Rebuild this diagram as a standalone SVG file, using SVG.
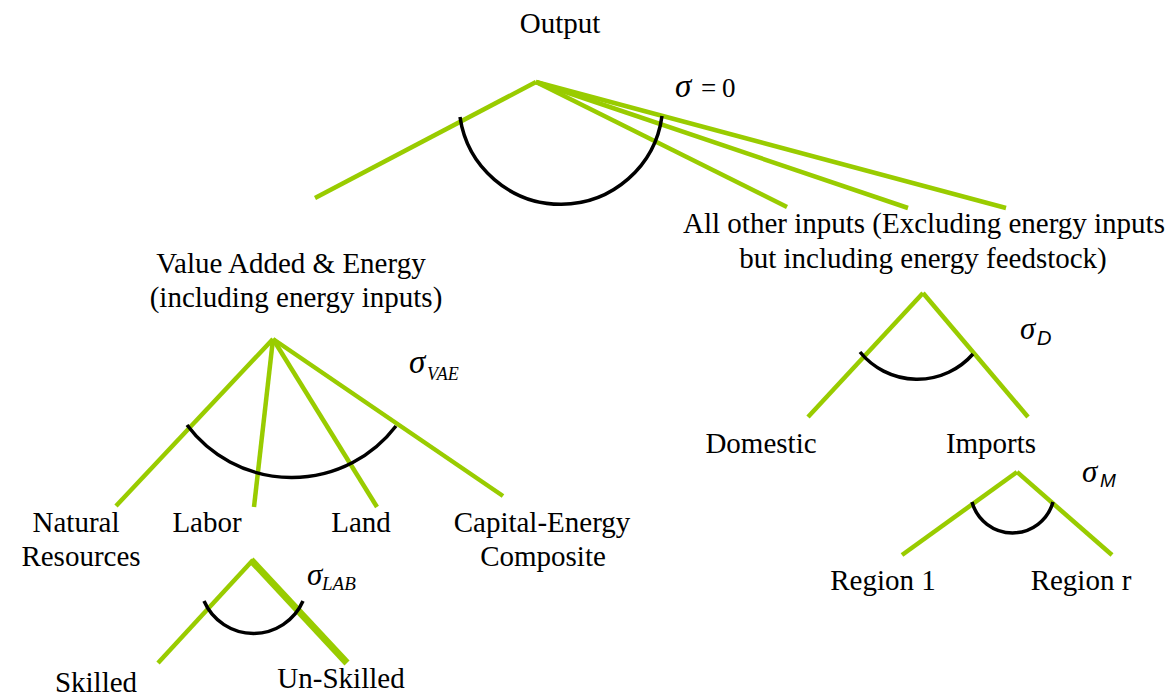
<svg xmlns="http://www.w3.org/2000/svg" width="1173" height="696" viewBox="0 0 1173 696">
<style>
.t{font-family:"Liberation Serif","Times New Roman",serif;font-size:29px;fill:#000;text-anchor:middle}
.s{font-family:"Liberation Serif","Times New Roman",serif;font-style:italic;fill:#000}
.r{font-family:"Liberation Serif","Times New Roman",serif;fill:#000}
.ss{font-family:"Liberation Sans",Arial,sans-serif;font-style:italic;fill:#000}
.g{stroke:#99cc00;stroke-width:4.5;fill:none;stroke-linecap:butt}
.a{stroke:#000;stroke-width:3.5;fill:none}
</style>
<rect width="1173" height="696" fill="#fff"/>
<g id="connectors">
  <line class="g" x1="536" y1="82" x2="315" y2="198"/>
  <line class="g" x1="536" y1="82" x2="787" y2="207"/>
  <line class="g" x1="536" y1="82" x2="908" y2="208"/>
  <line class="g" x1="536" y1="82" x2="1006" y2="208"/>
  <path class="a" d="M460,117 A102,102 0 0 0 662,116"/>
  <line class="g" x1="273" y1="339" x2="116" y2="506"/>
  <line class="g" x1="273" y1="339" x2="254" y2="507"/>
  <line class="g" x1="273" y1="339" x2="377" y2="507"/>
  <line class="g" x1="273" y1="339" x2="503" y2="496"/>
  <path class="a" d="M187,425 A131,131 0 0 0 396,426"/>
  <line class="g" x1="923" y1="293" x2="808" y2="417"/>
  <line class="g" x1="923" y1="293" x2="1028" y2="417"/>
  <path class="a" d="M860,352 A74,74 0 0 0 973,354"/>
  <line class="g" x1="1017" y1="472" x2="902" y2="555"/>
  <line class="g" x1="1017" y1="472" x2="1112" y2="555"/>
  <path class="a" d="M972,502 A42,42 0 0 0 1053,502"/>
  <line class="g" x1="253" y1="560" x2="158" y2="663"/>
  <line class="g" x1="251" y1="560" x2="347" y2="663" style="stroke-width:7"/>
  <path class="a" d="M204,601 A54,54 0 0 0 303,601"/>
</g>
<g id="output"><text class="t" x="560" y="33">Output</text></g>
<g id="sigma0"><text class="s" x="675" y="97" font-size="33">σ</text><text class="r" x="701" y="97" font-size="27">=</text><text class="r" x="722" y="97" font-size="27">0</text></g>
<g id="vae"><text class="t" x="291" y="273">Value Added &amp; Energy</text><text class="t" x="296" y="307">(including energy inputs)</text></g>
<g id="other"><text class="t" x="924" y="233">All other inputs (Excluding energy inputs</text><text class="t" x="923" y="268">but including energy feedstock)</text></g>
<g id="sigmaVAE"><text class="s" x="409" y="373" font-size="33">σ</text><text class="s" x="427" y="380" font-size="18">VAE</text></g>
<g id="natural"><text class="t" x="76" y="532">Natural</text><text class="t" x="81" y="566">Resources</text></g>
<g id="labor"><text class="t" x="207" y="532">Labor</text></g>
<g id="land"><text class="t" x="361" y="532">Land</text></g>
<g id="capital"><text class="t" x="542" y="532">Capital-Energy</text><text class="t" x="543" y="566">Composite</text></g>
<g id="sigmaLAB"><text class="s" x="307" y="585" font-size="31">σ</text><text class="s" x="322" y="590" font-size="19">LAB</text></g>
<g id="skilled"><text class="t" x="96" y="692">Skilled</text></g>
<g id="unskilled"><text class="t" x="341" y="688">Un-Skilled</text></g>
<g id="sigmaD"><text class="s" x="1020" y="339" font-size="31">σ</text><text class="ss" x="1037" y="345" font-size="20">D</text></g>
<g id="domestic"><text class="t" x="761" y="453">Domestic</text></g>
<g id="imports"><text class="t" x="991" y="453">Imports</text></g>
<g id="sigmaM"><text class="s" x="1082" y="482" font-size="31">σ</text><text class="ss" x="1100" y="487" font-size="19">M</text></g>
<g id="region1"><text class="t" x="883" y="590">Region 1</text></g>
<g id="regionr"><text class="t" x="1081" y="590">Region r</text></g>
</svg>
